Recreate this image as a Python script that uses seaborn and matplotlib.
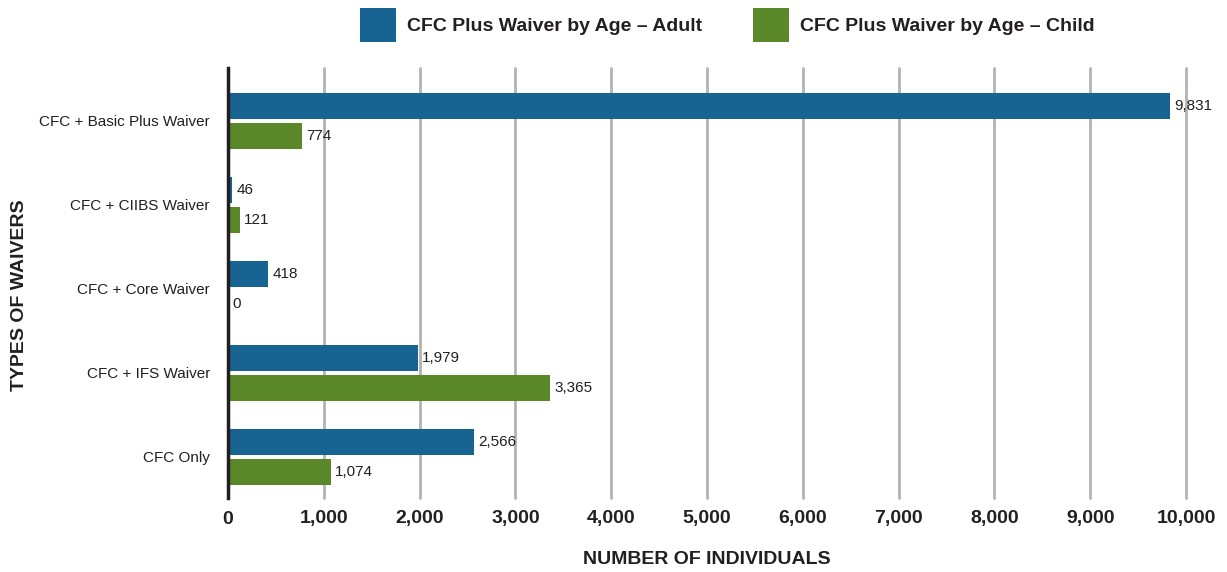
import matplotlib
matplotlib.use("Agg")
import matplotlib.pyplot as plt
from matplotlib import font_manager
import seaborn as sns
import pandas as pd

categories = ["CFC + Basic Plus Waiver", "CFC + CIIBS Waiver", "CFC + Core Waiver",
              "CFC + IFS Waiver", "CFC Only"]
series_names = ["CFC Plus Waiver by Age – Adult", "CFC Plus Waiver by Age – Child"]
adult = [9831, 46, 418, 1979, 2566]
child = [774, 121, 0, 3365, 1074]
x_ticks = [0, 1000, 2000, 3000, 4000, 5000, 6000, 7000, 8000, 9000, 10000]

sns.set_theme(style="white")
names = {f.name for f in font_manager.fontManager.ttflist}
if "Liberation Sans Narrow" in names:
    main = "Liberation Sans Narrow"
    scale = 1.2
else:
    main = "Liberation Sans"
    scale = 1.0
FAM = [main, "DejaVu Sans"]
plt.rcParams["font.family"] = FAM
TXT = "#231f20"

df = pd.DataFrame({
    "Waiver": categories * 2,
    "Individuals": adult + child,
    "Series": [series_names[0]] * len(categories) + [series_names[1]] * len(categories),
})

fig = plt.figure(figsize=(12.27, 5.72), dpi=100)
ax = fig.add_axes([228 / 1227, 1 - 498 / 572, (1186 - 228) / 1227, (498 - 68) / 572])

sns.barplot(data=df, y="Waiver", x="Individuals", hue="Series", orient="h",
            palette=["#176391", "#5b8829"], width=0.714, gap=0.13,
            order=categories, hue_order=series_names, ax=ax, zorder=3,
            saturation=1, legend=True, linewidth=0, edgecolor="none")

ax.set_xlim(0, 10000)
ax.set_ylim(4.49, -0.63)
ax.set_xticks(x_ticks)
ax.set_xticklabels([f"{v:,}" for v in x_ticks], fontsize=14 * scale, fontweight="bold", color=TXT)
ax.tick_params(axis="x", length=0, pad=9)
ax.tick_params(axis="y", length=0, pad=13, labelsize=11 * scale, labelcolor=TXT)
ax.grid(axis="x", color="#b3b3b3", linewidth=2, zorder=0)
ax.set_axisbelow(True)
for gl in ax.get_xgridlines():
    gl.set_clip_on(False)
for s in ["top", "right", "bottom"]:
    ax.spines[s].set_visible(False)
ax.spines["left"].set_color("#231f20")
ax.spines["left"].set_linewidth(2.5)
ax.spines["left"].set_zorder(5)

for cont in ax.containers:
    ax.bar_label(cont, labels=[f"{v:,.0f}" for v in cont.datavalues],
                 padding=3, fontsize=11 * scale, color=TXT)

ax.set_xlabel("NUMBER OF INDIVIDUALS", fontsize=14 * scale, fontweight="bold", color=TXT)
ax.xaxis.set_label_coords(0.5, -(560 - 498) / 430)
ax.xaxis.label.set_va("center")
ax.set_ylabel("TYPES OF WAIVERS", fontsize=14 * scale, fontweight="bold", color=TXT)
ax.yaxis.set_label_coords(-(228 - 20) / 958, 1 - (295 - 68) / 430)
ax.yaxis.label.set_va("center")

handles, labels = ax.get_legend_handles_labels()
ax.get_legend().remove()
leg = fig.legend(handles, labels, loc="upper center", bbox_to_anchor=(0.593, 1 - 8 / 572),
                 ncol=2, frameon=False, prop={"family": FAM, "size": 14 * scale, "weight": "bold"},
                 handlelength=1.85, handleheight=2.33, handletextpad=0.57,
                 columnspacing=2.6, borderaxespad=0.0, borderpad=0.0)
for t in leg.get_texts():
    t.set_color(TXT)

fig.savefig("out.png", dpi=100)
